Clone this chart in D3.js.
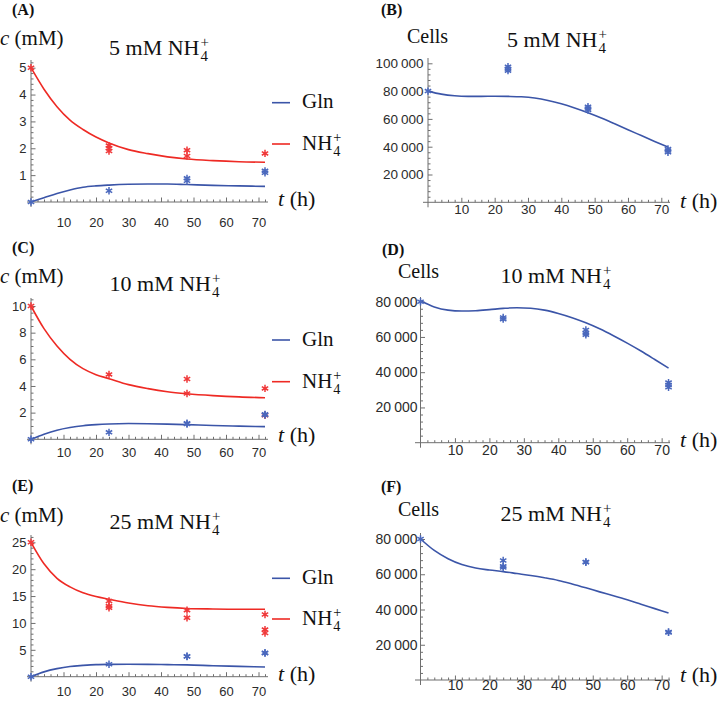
<!DOCTYPE html>
<html><head><meta charset="utf-8">
<script src="https://cdn.jsdelivr.net/npm/d3@7"></script>
<style>body{margin:0;background:#fff}</style></head><body>
<svg id="c" width="720" height="703"></svg>
<script>
// ---------- DATA ----------
const xTickLabels = [10,20,30,40,50,60,70];
const concFitT = [0,4,8,12,16,20,24,30,36,42,48,56,64,72];
const nh4FitA = [5.0,4.2,3.55,3.05,2.7,2.42,2.2,1.95,1.8,1.68,1.6,1.54,1.5,1.48];
const glnFitA = [0,0.16,0.32,0.45,0.55,0.6,0.63,0.66,0.67,0.67,0.65,0.62,0.6,0.58];
const nh4FitC = [10,8.3,7.0,6.0,5.3,4.85,4.55,4.1,3.8,3.57,3.42,3.28,3.18,3.12];
const glnFitC = [0,0.38,0.68,0.88,1.02,1.1,1.15,1.18,1.17,1.14,1.1,1.04,0.99,0.95];
const nh4FitE = [25,21.0,18.3,16.7,15.6,14.9,14.4,13.7,13.2,12.9,12.7,12.6,12.55,12.55];
const glnFitE = [0,0.9,1.5,1.9,2.1,2.25,2.3,2.32,2.3,2.25,2.2,2.05,1.92,1.8];

const cellFitT = [0,4,8,12,16,20,24,28,32,36,40,44,48,52,56,60,64,68,72];
const cellFitB = [80000,77800,76600,76200,76200,76300,76200,75900,75000,73300,70900,67900,64500,60700,56500,52200,48000,43800,39700];
const cellFitD = [80500,77000,75200,74700,74900,75500,76200,76600,76300,75200,73300,70900,68000,64600,60700,56500,52000,47200,42300];
const cellFitF = [80000,73500,68800,65500,63500,62400,61500,60400,59300,58000,56500,54500,52300,50000,47800,45500,43000,40500,38000];

const nh4ObsA = [[0,5],[24,2.1],[24,2.0],[24,1.9],[48,1.93],[48,1.71],[72,1.81]];
const glnObsA = [[0,0],[24,0.42],[48,0.88],[48,0.79],[72,1.16],[72,1.09]];
const nh4ObsC = [[0,10],[24,4.87],[48,4.52],[48,3.44],[72,3.82],[72,1.8]];
const glnObsC = [[0,0],[24,0.52],[48,1.2],[48,1.15],[72,1.87],[72,1.82]];
const nh4ObsE = [[0,25],[24,14.07],[24,13.13],[24,12.83],[48,12.38],[48,10.95],[72,11.57],[72,8.76],[72,8.14]];
const glnObsE = [[0,0],[24,2.32],[48,3.75],[48,3.8],[72,4.38],[72,4.45]];
const cellObsB = [[0,80000],[24,97600],[24,96000],[24,94700],[48,68800],[48,67500],[48,66400],[72,38300],[72,37200],[72,36000]];
const cellObsD = [[0,80000],[24,71000],[24,70100],[48,64000],[48,62100],[48,61200],[72,34100],[72,32800],[72,31500]];
const cellObsF = [[0,80000],[24,67800],[24,64600],[24,63800],[48,66800],[48,67000],[72,27000],[72,27300]];

const doses = ["5","10","25"];
const legendLabels = ["Gln","NH"];

// ---------- STYLE / LAYOUT ----------
const BLUE = "#3b55a8", RED = "#ee2a24", BLUE_PT = "#4a68bd", RED_PT = "#f0393a";
const AXIS = "#6f6f6f", TICKTXT = "#2b2b2b";
const SERIF = "'Liberation Serif','DejaVu Serif',serif";
const SANS = "'Liberation Sans',Arial,sans-serif";

const svg = d3.select("#c");

const panels = [
 {L:"A", type:"conc", dose:0, x0:31, k:3.25, y0:202, yRef:5, yRefPx:67.7, yTopPx:60, xAxisL:27, xAxisR:268,
  yMaj:[1,2,3,4,5], yMinStep:0.2, xLabOff:24.5, letterX:12, letterY:15, titleX:159, titleY:55, yLabX:0, yLabY:45,
  tX:278, tY:206, legX:272, legY1:102.7, legY2:144, nh4:nh4FitA, gln:glnFitA, nh4O:nh4ObsA, glnO:glnObsA},
 {L:"C", type:"conc", dose:1, x0:31, k:3.25, y0:439.3, yRef:10, yRefPx:306, yTopPx:298, xAxisL:27, xAxisR:268,
  yMaj:[2,4,6,8,10], yMinStep:0.5, xLabOff:18, letterX:12, letterY:253, titleX:165, titleY:291, yLabX:0, yLabY:283,
  tX:278, tY:442, legX:272, legY1:340, legY2:381.7, nh4:nh4FitC, gln:glnFitC, nh4O:nh4ObsC, glnO:glnObsC},
 {L:"E", type:"conc", dose:2, x0:31, k:3.25, y0:676.7, yRef:25, yRefPx:542.3, yTopPx:535, xAxisL:27, xAxisR:268,
  yMaj:[5,10,15,20,25], yMinStep:1, xLabOff:19, letterX:12, letterY:491, titleX:165, titleY:529, yLabX:0, yLabY:521.5,
  tX:278, tY:681, legX:272, legY1:578.3, legY2:619, nh4:nh4FitE, gln:glnFitE, nh4O:nh4ObsE, glnO:glnObsE},
 {L:"B", type:"cells", dose:0, x0:428, k:3.333, y0:202.3, yRef:100000, yRefPx:63.3, yTopPx:58, xAxisL:423, xAxisR:670,
  yMaj:[20000,40000,60000,80000,100000], yMinStep:4000, xLabOff:12, yLabGap:4.5, fs:13.5, letterX:381, letterY:15,
  titleX:557, titleY:47.3, yLabX:407, yLabY:43.3, tX:680, tY:208, fit:cellFitB, obs:cellObsB},
 {L:"D", type:"cells", dose:1, x0:420.5, k:3.445, y0:442.7, yRef:80000, yRefPx:301.7, yTopPx:297, xAxisL:415, xAxisR:670,
  yMaj:[20000,40000,60000,80000], yMinStep:4000, xLabOff:12.3, yLabGap:3, fs:14, letterX:382, letterY:255,
  titleX:556, titleY:283.3, yLabX:398, yLabY:278.3, tX:680, tY:447, fit:cellFitD, obs:cellObsD},
 {L:"F", type:"cells", dose:2, x0:420.5, k:3.445, y0:680, yRef:80000, yRefPx:539, yTopPx:533, xAxisL:415, xAxisR:670,
  yMaj:[20000,40000,60000,80000], yMinStep:4000, xLabOff:10, yLabGap:3, fs:14, letterX:381, letterY:491.7,
  titleX:556, titleY:521, yLabX:398, yLabY:516, tX:680, tY:682, fit:cellFitF, obs:cellObsF}
];

function star(g, x, y, color){
  const r = 3.7, p = [];
  for (let a of [90, 30, 150]) {
    const t = a*Math.PI/180, dx = r*Math.cos(t), dy = r*Math.sin(t);
    p.push(`M${x-dx},${y-dy}L${x+dx},${y+dy}`);
  }
  g.append("path").attr("d", p.join("")).attr("stroke", color).attr("stroke-width", 1.5).attr("fill","none");
}

function fmtThousands(v){ return v>=1000 ? [String(Math.floor(v/1000)), String(v%1000).padStart(3,"0")] : [String(v), null]; }

// one text element: prefix + subscript 4 + superscript + stacked
function nh4Text(g, x, y, size, anchorCenter, prefix){
  const s = size*0.68;
  const t = g.append("text").attr("x", x).attr("y", y).attr("font-family", SERIF).attr("font-size", size).attr("fill","#111");
  t.append("tspan").text(prefix);
  const sub = t.append("tspan").attr("font-size", s).attr("dx", 1).attr("dy", size*0.28).text("4");
  const subW = sub.node().getComputedTextLength();
  t.append("tspan").attr("font-size", s).attr("dx", -subW).attr("dy", -size*0.66).text("+");
  if (anchorCenter) {
    const w = t.node().getBBox().width;
    t.attr("x", x - w/2);
  }
}

panels.forEach(p => {
  const g = svg.append("g");
  const x = d3.scaleLinear().domain([0,72]).range([p.x0, p.x0+72*p.k]);
  const y = d3.scaleLinear().domain([0,p.yRef]).range([p.y0, p.yRefPx]);
  const yTopVal = y.invert(p.yTopPx);

  // axis lines
  g.append("line").attr("x1", p.xAxisL).attr("x2", p.xAxisR).attr("y1", p.y0).attr("y2", p.y0).attr("stroke", AXIS).attr("stroke-width",1);
  g.append("line").attr("x1", p.x0).attr("x2", p.x0).attr("y1", p.y0+5).attr("y2", p.yTopPx).attr("stroke", AXIS).attr("stroke-width",1);

  // x ticks via d3 axis
  const xMinor = d3.range(2, 73, 2).filter(v => v%10 !== 0);
  const xa = g.append("g").attr("transform", `translate(0,${p.y0})`)
    .call(d3.axisBottom(x).tickValues(xTickLabels).tickSizeInner(-4.5).tickSizeOuter(0).tickFormat(d3.format("d")));
  xa.select(".domain").remove();
  xa.selectAll("line").attr("stroke", AXIS);
  xa.selectAll("text").attr("y", p.xLabOff).attr("dy", 0).attr("font-family", SANS).attr("font-size", p.fs||13).attr("fill", TICKTXT);
  const xm = g.append("g").attr("transform", `translate(0,${p.y0})`)
    .call(d3.axisBottom(x).tickValues(xMinor).tickSizeInner(-2.5).tickSizeOuter(0).tickFormat(""));
  xm.select(".domain").remove(); xm.selectAll("line").attr("stroke", AXIS);

  // y ticks
  const yMinor = d3.range(p.yMinStep, yTopVal, p.yMinStep).filter(v => !p.yMaj.some(m => Math.abs(m-v) < p.yMinStep*0.01));
  const ya = g.append("g").attr("transform", `translate(${p.x0},0)`)
    .call(d3.axisLeft(y).tickValues(p.yMaj).tickSizeInner(-4.5).tickSizeOuter(0).tickFormat(""));
  ya.select(".domain").remove(); ya.selectAll("line").attr("stroke", AXIS);
  const ym = g.append("g").attr("transform", `translate(${p.x0},0)`)
    .call(d3.axisLeft(y).tickValues(yMinor).tickSizeInner(-2.5).tickSizeOuter(0).tickFormat(""));
  ym.select(".domain").remove(); ym.selectAll("line").attr("stroke", AXIS);

  // y tick labels
  const fs = p.fs || 13;
  p.yMaj.forEach(v => {
    const parts = fmtThousands(v);
    const tx = g.append("text").attr("x", p.x0 - (p.yLabGap||4.5)).attr("y", y(v)).attr("dy","0.36em")
      .attr("text-anchor","end").attr("font-family", SANS).attr("font-size", fs).attr("fill", TICKTXT);
    if (parts[1] === null) tx.text(parts[0]);
    else { tx.append("tspan").text(parts[0]); tx.append("tspan").attr("dx", 3).text(parts[1]); }
  });

  const line = d3.line().x(d => x(d[0])).y(d => y(d[1])).curve(d3.curveMonotoneX);

  if (p.type === "conc") {
    g.append("path").datum(concFitT.map((t,i)=>[t,p.nh4[i]])).attr("d", line).attr("fill","none").attr("stroke", RED).attr("stroke-width",1.6);
    g.append("path").datum(concFitT.map((t,i)=>[t,p.gln[i]])).attr("d", line).attr("fill","none").attr("stroke", BLUE).attr("stroke-width",1.6);
    p.nh4O.forEach(d => star(g, x(d[0]), y(d[1]), RED_PT));
    p.glnO.forEach(d => star(g, x(d[0]), y(d[1]), BLUE_PT));
    // legend
    g.append("line").attr("x1", p.legX).attr("x2", p.legX+18).attr("y1", p.legY1).attr("y2", p.legY1).attr("stroke", BLUE).attr("stroke-width",1.6);
    g.append("text").attr("x", p.legX+30).attr("y", p.legY1+5.6).attr("font-family", SERIF).attr("font-size", 21).attr("fill","#111").text(legendLabels[0]);
    g.append("line").attr("x1", p.legX).attr("x2", p.legX+18).attr("y1", p.legY2).attr("y2", p.legY2).attr("stroke", RED).attr("stroke-width",1.6);
    nh4Text(g, p.legX+30, p.legY2+6, 21, false, legendLabels[1]);
    // y label
    const yl = g.append("text").attr("x", p.yLabX).attr("y", p.yLabY).attr("font-family", SERIF).attr("font-size", 21).attr("fill","#111");
    yl.append("tspan").attr("font-style","italic").text("c");
    yl.append("tspan").text(" (mM)");
  } else {
    g.append("path").datum(cellFitT.map((t,i)=>[t,p.fit[i]])).attr("d", line).attr("fill","none").attr("stroke", BLUE).attr("stroke-width",1.6);
    p.obs.forEach(d => star(g, x(d[0]), y(d[1]), BLUE_PT));
    g.append("text").attr("x", p.yLabX).attr("y", p.yLabY).attr("font-family", SERIF).attr("font-size", 20).attr("fill","#111").text("Cells");
  }

  // title
  nh4Text(g, p.titleX, p.titleY, 22, true, doses[p.dose] + " mM NH");
  // t (h)
  const tl = g.append("text").attr("x", p.tX).attr("y", p.tY).attr("font-family", SERIF).attr("font-size", 22).attr("fill","#111");
  tl.append("tspan").attr("font-style","italic").text("t");
  tl.append("tspan").text(" (h)");
  // panel letter
  g.append("text").attr("x", p.letterX).attr("y", p.letterY).attr("font-family", SERIF).attr("font-weight","bold").attr("font-size", 16).attr("fill","#111").text(`(${p.L})`);
});
</script>
</body></html>
